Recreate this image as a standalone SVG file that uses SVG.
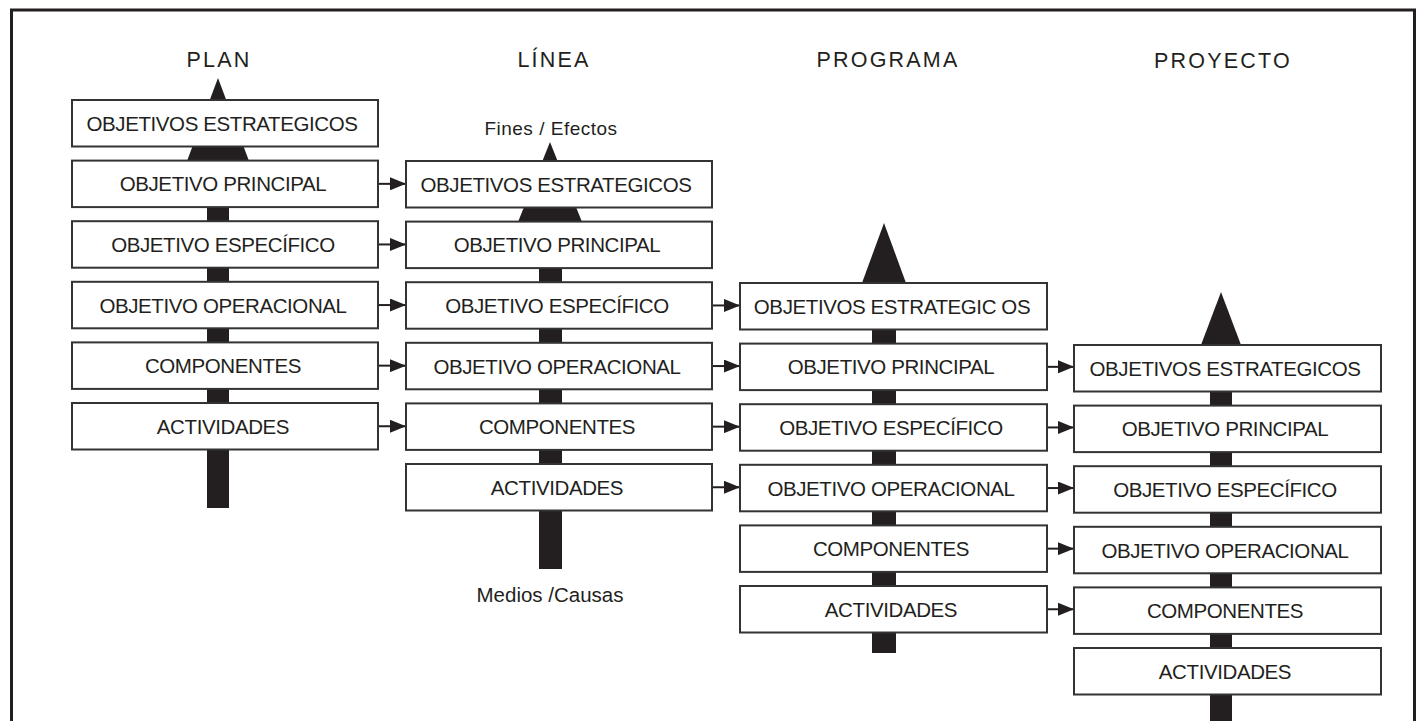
<svg xmlns="http://www.w3.org/2000/svg" width="1416" height="721" viewBox="0 0 1416 721">
<style>
.box{fill:#fff;stroke:#333;stroke-width:2}
.t{font-family:"Liberation Sans",Arial,sans-serif;font-size:20.5px;fill:#231f20;text-anchor:middle;letter-spacing:-0.4px}
.h{font-family:"Liberation Sans",Arial,sans-serif;font-size:21.5px;fill:#231f20;text-anchor:middle;letter-spacing:2.2px}
.s{font-family:"Liberation Sans",Arial,sans-serif;font-size:19px;fill:#231f20;text-anchor:middle}
.big{fill:#231f20}
.con{stroke:#231f20;stroke-width:2;fill:none;marker-end:url(#ah)}
</style>
<defs>
<marker id="ah" markerUnits="userSpaceOnUse" markerWidth="16" markerHeight="13" refX="16" refY="6.5" orient="auto">
<path d="M0,0 L16,6.5 L0,13 z" fill="#231f20"/>
</marker>
</defs>
<rect x="11.5" y="10" width="1403" height="800" fill="none" stroke="#231f20" stroke-width="3"/>
<g id="headers">
<text class="h" x="219" y="67">PLAN</text>
<text class="h" x="554" y="67">LÍNEA</text>
<text class="h" x="888" y="67">PROGRAMA</text>
<text class="h" x="1223" y="68">PROYECTO</text>
<text class="s" x="551" y="135" style="letter-spacing:0.5px">Fines / Efectos</text>
<text class="s" x="550" y="602" style="font-size:20.5px">Medios /Causas</text>
</g>
<g id="flow-arrows">
<polygon class="big" points="218,78 249,161 187,161"/>
<rect class="big" x="207" y="160" width="22" height="348"/>
<polygon class="big" points="550,142 582,222 518,222"/>
<rect class="big" x="539" y="221" width="23" height="348"/>
<polygon class="big" points="884,223 906,283 862,283"/>
<rect class="big" x="872" y="282" width="24" height="371"/>
<polygon class="big" points="1221,292 1241,345 1201,345"/>
<rect class="big" x="1210" y="344" width="22" height="390"/>
</g>
<g id="connectors">
<line class="con" x1="378" y1="183.85" x2="406" y2="183.85"/>
<line class="con" x1="378" y1="244.45" x2="406" y2="244.45"/>
<line class="con" x1="378" y1="305.05" x2="406" y2="305.05"/>
<line class="con" x1="378" y1="365.65" x2="406" y2="365.65"/>
<line class="con" x1="378" y1="426.25" x2="406" y2="426.25"/>
<line class="con" x1="712" y1="305.45" x2="740" y2="305.45"/>
<line class="con" x1="712" y1="366.05" x2="740" y2="366.05"/>
<line class="con" x1="712" y1="426.65" x2="740" y2="426.65"/>
<line class="con" x1="712" y1="487.25" x2="740" y2="487.25"/>
<line class="con" x1="1047" y1="366.85" x2="1074" y2="366.85"/>
<line class="con" x1="1047" y1="427.45" x2="1074" y2="427.45"/>
<line class="con" x1="1047" y1="488.05" x2="1074" y2="488.05"/>
<line class="con" x1="1047" y1="548.65" x2="1074" y2="548.65"/>
<line class="con" x1="1047" y1="609.25" x2="1074" y2="609.25"/>
</g>
<g id="plan">
<g id="plan-1"><rect class="box" x="72" y="100" width="306" height="46.5"/><text class="t" x="222" y="130.8">OBJETIVOS ESTRATEGICOS</text></g>
<g id="plan-2"><rect class="box" x="72" y="160.6" width="306" height="46.5"/><text class="t" x="223" y="191.4">OBJETIVO PRINCIPAL</text></g>
<g id="plan-3"><rect class="box" x="72" y="221.2" width="306" height="46.5"/><text class="t" x="223" y="252">OBJETIVO ESPECÍFICO</text></g>
<g id="plan-4"><rect class="box" x="72" y="281.8" width="306" height="46.5"/><text class="t" x="223" y="312.5">OBJETIVO OPERACIONAL</text></g>
<g id="plan-5"><rect class="box" x="72" y="342.4" width="306" height="46.5"/><text class="t" x="223" y="373.2">COMPONENTES</text></g>
<g id="plan-6"><rect class="box" x="72" y="403" width="306" height="46.5"/><text class="t" x="223" y="433.8">ACTIVIDADES</text></g>
</g>
<g id="linea">
<g id="linea-1"><rect class="box" x="406" y="161" width="306" height="46.5"/><text class="t" x="556" y="191.8">OBJETIVOS ESTRATEGICOS</text></g>
<g id="linea-2"><rect class="box" x="406" y="221.6" width="306" height="46.5"/><text class="t" x="557" y="252.4">OBJETIVO PRINCIPAL</text></g>
<g id="linea-3"><rect class="box" x="406" y="282.2" width="306" height="46.5"/><text class="t" x="557" y="313">OBJETIVO ESPECÍFICO</text></g>
<g id="linea-4"><rect class="box" x="406" y="342.8" width="306" height="46.5"/><text class="t" x="557" y="373.5">OBJETIVO OPERACIONAL</text></g>
<g id="linea-5"><rect class="box" x="406" y="403.4" width="306" height="46.5"/><text class="t" x="557" y="434.2">COMPONENTES</text></g>
<g id="linea-6"><rect class="box" x="406" y="464" width="306" height="46.5"/><text class="t" x="557" y="494.8">ACTIVIDADES</text></g>
</g>
<g id="programa">
<g id="programa-1"><rect class="box" x="740" y="283" width="307" height="46.5"/><text class="t" x="892" y="313.8">OBJETIVOS ESTRATEGIC OS</text></g>
<g id="programa-2"><rect class="box" x="740" y="343.6" width="307" height="46.5"/><text class="t" x="891" y="374.4">OBJETIVO PRINCIPAL</text></g>
<g id="programa-3"><rect class="box" x="740" y="404.2" width="307" height="46.5"/><text class="t" x="891" y="435">OBJETIVO ESPECÍFICO</text></g>
<g id="programa-4"><rect class="box" x="740" y="464.8" width="307" height="46.5"/><text class="t" x="891" y="495.5">OBJETIVO OPERACIONAL</text></g>
<g id="programa-5"><rect class="box" x="740" y="525.4" width="307" height="46.5"/><text class="t" x="891" y="556.2">COMPONENTES</text></g>
<g id="programa-6"><rect class="box" x="740" y="586" width="307" height="46.5"/><text class="t" x="891" y="616.8">ACTIVIDADES</text></g>
</g>
<g id="proyecto">
<g id="proyecto-1"><rect class="box" x="1074" y="345" width="307" height="46.5"/><text class="t" x="1225" y="375.8">OBJETIVOS ESTRATEGICOS</text></g>
<g id="proyecto-2"><rect class="box" x="1074" y="405.6" width="307" height="46.5"/><text class="t" x="1225" y="436.4">OBJETIVO PRINCIPAL</text></g>
<g id="proyecto-3"><rect class="box" x="1074" y="466.2" width="307" height="46.5"/><text class="t" x="1225" y="497">OBJETIVO ESPECÍFICO</text></g>
<g id="proyecto-4"><rect class="box" x="1074" y="526.8" width="307" height="46.5"/><text class="t" x="1225" y="557.5">OBJETIVO OPERACIONAL</text></g>
<g id="proyecto-5"><rect class="box" x="1074" y="587.4" width="307" height="46.5"/><text class="t" x="1225" y="618.2">COMPONENTES</text></g>
<g id="proyecto-6"><rect class="box" x="1074" y="648" width="307" height="46.5"/><text class="t" x="1225" y="678.8">ACTIVIDADES</text></g>
</g>
</svg>
